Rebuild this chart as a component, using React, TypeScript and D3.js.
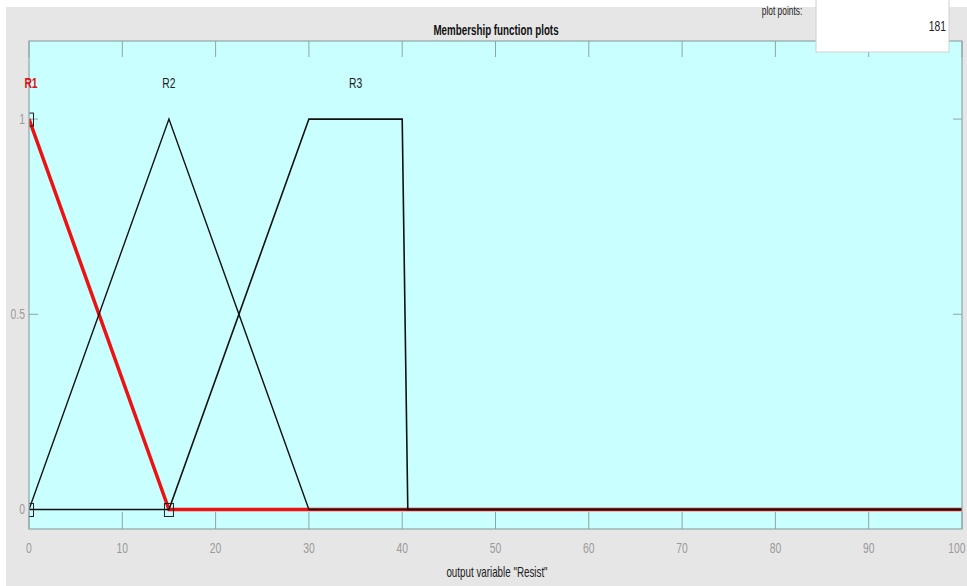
import React from "react";
import * as d3 from "d3";

const W = 967;
const H = 586;

const xTicks = [0, 10, 20, 30, 40, 50, 60, 70, 80, 90, 100];
const yTicks = [0, 0.5, 1];
const yTickLabels = ["0", "0.5", "1"];

const mfNames = ["R1", "R2", "R3"];
const mfLabelX = [0, 15, 35];
const r1X = [0, 15, 100];
const r1Y = [1, 0, 0];
const r2X = [0, 15, 30, 100];
const r2Y = [0, 1, 0, 0];
const r3X = [0, 15, 30, 40, 40.6, 100];
const r3Y = [0, 0, 1, 1, 0, 0];
const markerX = [0, 0, 15];
const markerY = [0, 1, 0];

const FONT = "'Liberation Sans', Arial, sans-serif";

type TProps = {
  x: number;
  y: number;
  size: number;
  anchor?: "start" | "middle" | "end";
  fill?: string;
  bold?: boolean;
  sx?: number;
  children: React.ReactNode;
};

function T({ x, y, size, anchor = "middle", fill = "#222", bold = false, sx = 0.74, children }: TProps) {
  return (
    <text transform={`translate(${x},${y}) scale(${sx},1)`} textAnchor={anchor} fontSize={size}
      fontWeight={bold ? "bold" : "normal"} fill={fill}>
      {children}
    </text>
  );
}

export default function App() {
  const left = 29, right = 962, top = 41, bottom = 529;
  const x = d3.scaleLinear().domain([0, 100]).range([left, right]);
  const y = d3.scaleLinear().domain([-0.05, 1.2]).range([bottom, top]);
  const line = d3.line<[number, number]>().x((d) => x(d[0])).y((d) => y(d[1]));
  const zip = (xs: number[], ys: number[]) => xs.map((v, i) => [v, ys[i]] as [number, number]);
  const axisColor = "#8fa6a6";
  const tickText = "#9a9a9a";

  return (
    <svg width={W} height={H} style={{ position: "absolute", left: 0, top: 0, display: "block" }} fontFamily={FONT}>
      <rect x={0} y={0} width={W} height={H} fill="#ffffff" />
      <rect x={6} y={7} width={W - 6} height={H - 7} fill="#e6e6e6" />
      <defs>
        <clipPath id="plotclip">
          <rect x={left} y={top} width={right - left} height={bottom - top} />
        </clipPath>
      </defs>
      <rect x={left} y={top} width={right - left} height={bottom - top} fill="#c9ffff" />
      {xTicks.map((t) => (
        <g key={"xt" + t}>
          <line x1={x(t)} x2={x(t)} y1={bottom} y2={bottom - 17} stroke={axisColor} strokeWidth={1} />
          <line x1={x(t)} x2={x(t)} y1={top} y2={top + 16} stroke={axisColor} strokeWidth={1} />
          <T x={t === 100 ? x(t) - 5 : x(t)} y={553} size={14} fill={tickText}>{t}</T>
        </g>
      ))}
      {yTicks.map((t, i) => (
        <g key={"yt" + t}>
          <line x1={left} x2={left + 9} y1={y(t)} y2={y(t)} stroke={axisColor} strokeWidth={1} />
          <line x1={right} x2={right - 9} y1={y(t)} y2={y(t)} stroke={axisColor} strokeWidth={1} />
          <T x={left - 4} y={y(t) + 5} size={14} anchor="end" fill={tickText}>{yTickLabels[i]}</T>
        </g>
      ))}
      <g clipPath="url(#plotclip)">
        <path d={line(zip(r1X, r1Y)) || ""} fill="none" stroke="#ee1111" strokeWidth={3.5} />
        <path d={line(zip(r2X, r2Y)) || ""} fill="none" stroke="#111" strokeWidth={1.4} />
        <path d={line(zip(r3X, r3Y)) || ""} fill="none" stroke="#111" strokeWidth={1.6} />
        {markerX.map((mx, i) => (
          <rect key={"m" + i} x={x(mx) - 4.5} y={y(markerY[i]) - 6} width={9} height={13} fill="none" stroke="#222" strokeWidth={1} />
        ))}
      </g>
      <rect x={left} y={top} width={right - left} height={bottom - top} fill="none" stroke={axisColor} strokeWidth={1.2} />
      {mfNames.map((n, i) => (
        <T key={n} x={x(mfLabelX[i]) + (i === 0 ? 2 : 0)} y={88} size={14}
          fill={i === 0 ? "#e01010" : "#222"} bold={i === 0}>{n}</T>
      ))}
      <T x={496} y={35} size={14} bold fill="#111" sx={0.7}>Membership function plots</T>
      <T x={497} y={577} size={14} fill="#222" sx={0.7}>output variable "Resist"</T>
      <T x={782} y={15} size={12} fill="#222" sx={0.7}>plot points:</T>
      <rect x={816} y={-2} width={133} height={54} fill="#ffffff" stroke="#d0d0d0" strokeWidth={1} />
      <T x={946} y={31} size={14} anchor="end" fill="#222">181</T>
    </svg>
  );
}
